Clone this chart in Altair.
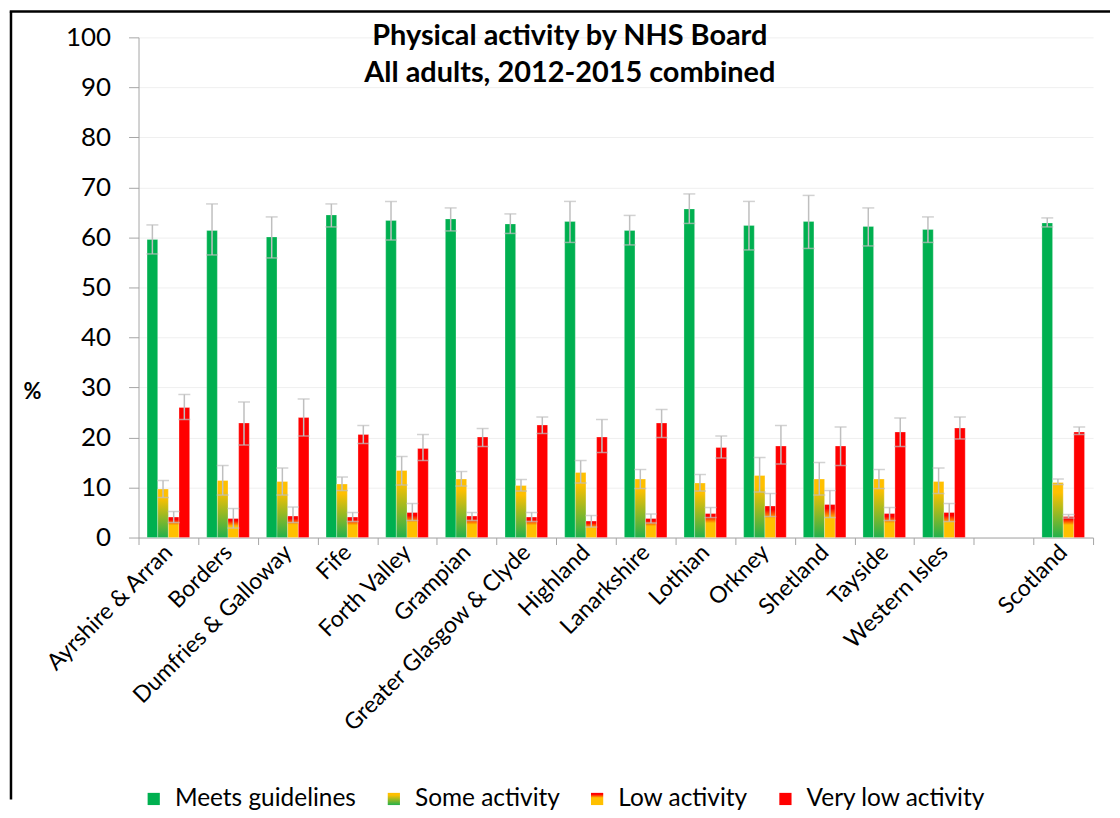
import altair as alt
import pandas as pd

boards = ["Ayrshire & Arran", "Borders", "Dumfries & Galloway", "Fife", "Forth Valley",
          "Grampian", "Greater Glasgow & Clyde", "Highland", "Lanarkshire", "Lothian",
          "Orkney", "Shetland", "Tayside", "Western Isles", "Scotland"]
series = ["Meets guidelines", "Some activity", "Low activity", "Very low activity"]

meets = [59.6, 61.4, 60.1, 64.5, 63.4, 63.7, 62.7, 63.2, 61.4, 65.7, 62.4, 63.2, 62.2, 61.6, 62.9]
meets_lo = [56.7, 56.5, 55.9, 62.1, 59.5, 61.3, 60.8, 59.0, 58.5, 62.8, 57.5, 57.8, 58.3, 59.0, 62.1]
meets_hi = [62.5, 66.7, 64.1, 66.7, 67.2, 65.9, 64.7, 67.2, 64.4, 68.7, 67.2, 68.4, 65.9, 64.1, 63.9]

some = [9.7, 11.4, 11.2, 10.7, 13.4, 11.7, 10.4, 13.0, 11.7, 10.9, 12.4, 11.7, 11.7, 11.2, 11.0]
some_lo = [8.0, 8.5, 8.5, 9.4, 10.5, 10.3, 9.3, 10.9, 9.8, 9.3, 9.1, 8.5, 9.8, 8.8, 10.6]
some_hi = [11.4, 14.4, 13.9, 12.1, 16.2, 13.2, 11.6, 15.4, 13.6, 12.6, 16.0, 15.0, 13.6, 13.9, 11.7]

low = [4.1, 3.8, 4.3, 4.1, 5.0, 4.3, 4.1, 3.3, 3.8, 4.8, 6.3, 6.6, 4.8, 5.0, 4.2]
low_lo = [3.0, 1.9, 3.0, 3.2, 3.4, 3.4, 3.2, 2.1, 2.9, 4.0, 4.2, 4.0, 3.4, 3.2, 3.9]
low_hi = [5.2, 5.8, 6.1, 5.0, 6.8, 5.0, 5.0, 4.4, 4.7, 6.0, 8.8, 9.4, 6.0, 6.8, 4.6]

vlow = [26.0, 22.9, 24.0, 20.6, 17.8, 20.1, 22.5, 20.1, 22.9, 18.0, 18.3, 18.3, 21.1, 21.9, 21.1]
vlow_lo = [23.6, 18.5, 20.3, 18.8, 15.4, 18.2, 20.8, 17.0, 20.0, 15.9, 14.7, 14.4, 18.2, 19.7, 20.6]
vlow_hi = [28.6, 27.1, 27.7, 22.4, 20.6, 21.8, 24.1, 23.6, 25.6, 20.3, 22.4, 22.1, 23.9, 24.1, 22.1]

x_domain = boards[:14] + [" "] + boards[14:]

rows = []
groups = [(series[0], meets, meets_lo, meets_hi), (series[1], some, some_lo, some_hi),
          (series[2], low, low_lo, low_hi), (series[3], vlow, vlow_lo, vlow_hi)]
for i, b in enumerate(boards):
    for s, v, lo, hi in groups:
        rows.append({"board": b, "series": s, "value": v[i], "lo": lo[i], "hi": hi[i]})
df = pd.DataFrame(rows)

FONT = "Lato"
GREY = "#BFBFBF"

some_grad = alt.ExprRef(expr="{gradient: 'linear', x1: 0, y1: 0, x2: 0, y2: 1, stops: [{offset: 0, color: '#FFC000'}, {offset: 0.18, color: '#FFC000'}, {offset: 1, color: '#22B14C'}]}")
low_grad = alt.ExprRef(expr="{gradient: 'linear', x1: 0, y1: 0, x2: 0, y2: 1, stops: [{offset: 0, color: '#FF0000'}, {offset: 0.12, color: '#FF0000'}, {offset: 0.4, color: '#FFC000'}, {offset: 1, color: '#FFC000'}]}")
color_range = ["#00B050", some_grad, low_grad, "#FF0000"]

x_axis = alt.Axis(labelAngle=-45, labelAlign="right", labelBaseline="middle", labelFont=FONT,
                  labelFontSize=23, labelColor="black", labelLimit=0, tickBand="extent", tickSize=7,
                  tickColor="#A6A6A6", domainColor="#A6A6A6", labelPadding=4, grid=False)
y_axis = alt.Axis(values=list(range(0, 101, 10)), labelFont=FONT, labelFontSize=26, labelColor="black",
                  tickSize=10, tickColor="#A6A6A6", domainColor="#A6A6A6", gridColor="#EFEFEF",
                  labelPadding=18, titleAngle=0, titleX=-107, titleY=355, titleAlign="center",
                  titleBaseline="middle", titleFont=FONT, titleFontSize=22, titleFontWeight="bold",
                  titleColor="black")

xs = alt.Scale(domain=x_domain, paddingInner=0, paddingOuter=0)
xos = alt.Scale(domain=series, paddingInner=0, paddingOuter=0.8)
ys = alt.Scale(domain=[0, 100], nice=False)

X = alt.X("board:N", scale=xs, axis=x_axis, title=None)
XO = alt.XOffset("series:N", scale=xos)

base = alt.Chart(df)

bars = base.mark_bar(stroke="white", strokeOpacity=0.35, strokeWidth=0.8).encode(
    x=X, xOffset=XO,
    y=alt.Y("value:Q", scale=ys, axis=y_axis, title="%"),
    color=alt.Color("series:N", scale=alt.Scale(domain=series, range=color_range),
                    legend=alt.Legend(title=None, orient="none", legendX=3, legendY=752,
                                      direction="horizontal", columns=4, symbolType="square",
                                      symbolSize=150, labelFont=FONT, labelFontSize=24.5,
                                      labelColor="black", labelLimit=0, columnPadding=25,
                                      labelOffset=9, symbolStrokeWidth=0)),
)

err = base.mark_rule(color=GREY, strokeWidth=1.5).encode(
    x=X, xOffset=XO,
    y=alt.Y("lo:Q", scale=ys, title="%"), y2="hi:Q")
cap_lo = base.mark_tick(color=GREY, thickness=1.5, size=12).encode(
    x=X, xOffset=XO, y=alt.Y("lo:Q", scale=ys, title="%"))
cap_hi = base.mark_tick(color=GREY, thickness=1.5, size=12).encode(
    x=X, xOffset=XO, y=alt.Y("hi:Q", scale=ys, title="%"))

frame_df = pd.DataFrame({"k": [0]})
left_border = alt.Chart(frame_df).mark_rule(color="black", strokeWidth=2.5, clip=False).encode(
    x=alt.value(-128), y=alt.value(-26), y2=alt.value(765))
top_border = alt.Chart(frame_df).mark_rule(color="black", strokeWidth=2.5, clip=False).encode(
    x=alt.value(-129.25), x2=alt.value(975), y=alt.value(-26))

chart = alt.layer(bars, err, cap_lo, cap_hi, left_border, top_border).properties(
    width=958, height=502, padding=0,
    title=alt.TitleParams(text=["Physical activity by NHS Board", "All adults, 2012-2015 combined"],
                          font=FONT, fontSize=29, fontWeight="bold", color="black",
                          anchor="middle", frame="bounds", offset=-78, lineHeight=37, dx=10),
).configure_view(stroke=None)

chart.save("out.html", embed_options={"renderer": "svg", "actions": False})
